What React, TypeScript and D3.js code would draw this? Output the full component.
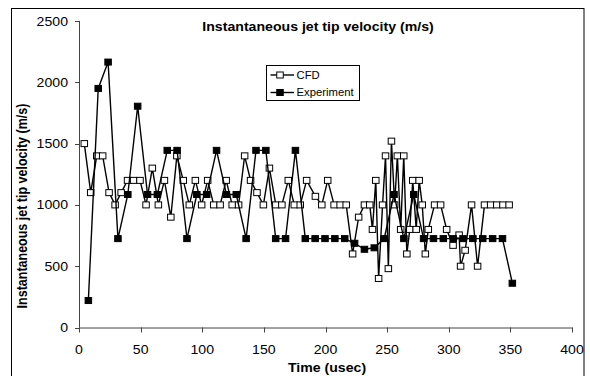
import React from 'react';
import * as d3 from 'd3';

const cfdTime = [4.3, 9.5, 14.4, 19.2, 24.4, 29.3, 34.2, 39.4, 44.3, 49.5, 54.4, 59.5, 64.4, 69.3, 74.5, 79.4, 84.6, 89.5, 94.4, 99.5, 104.4, 109.3, 114.5, 119.4, 124.3, 129.5, 134.4, 139.2, 144.4, 149.6, 154.5, 159.7, 164.6, 169.8, 174.7, 179.5, 184.7, 191.8, 197.0, 201.8, 207.0, 211.9, 216.8, 222.0, 226.9, 231.6, 235.9, 238.1, 240.8, 243.1, 246.3, 248.7, 251.0, 253.5, 256.1, 258.3, 261.0, 263.5, 266.0, 268.4, 270.8, 273.6, 276.0, 278.5, 281.0, 283.4, 288.5, 293.4, 298.3, 303.5, 308.4, 309.6, 313.3, 318.5, 323.4, 329.0, 334.0, 339.0, 344.0, 349.0];
const cfdVelocity = [1500, 1100, 1400, 1400, 1100, 1000, 1100, 1200, 1200, 1200, 1000, 1300, 1000, 1200, 900, 1400, 1200, 1000, 1200, 1000, 1200, 1000, 1000, 1200, 1000, 1000, 1400, 1200, 1100, 1000, 1300, 1000, 1000, 1200, 1000, 1000, 1200, 1070, 1000, 1200, 1000, 1000, 1000, 600, 900, 1000, 1000, 800, 1200, 400, 1000, 1400, 480, 1520, 1000, 1400, 800, 1400, 600, 800, 1200, 800, 1200, 1000, 600, 800, 1000, 1000, 800, 670, 755, 500, 630, 1000, 500, 1000, 1000, 1000, 1000, 1000];

const expTime = [7.6, 15.6, 23.6, 31.6, 39.6, 47.6, 55.6, 63.6, 71.6, 79.6, 87.6, 95.6, 103.6, 111.6, 119.6, 127.6, 135.6, 143.6, 151.6, 159.6, 167.6, 175.6, 183.6, 191.6, 199.6, 207.6, 215.6, 223.6, 231.6, 239.6, 247.6, 255.6, 263.6, 271.6, 279.6, 287.6, 295.6, 303.6, 311.6, 319.6, 327.6, 335.6, 343.6, 351.6];
const expVelocity = [220, 1950, 2165, 725, 1085, 1805, 1085, 1085, 1445, 1445, 725, 1085, 1085, 1445, 1085, 1085, 725, 1445, 1445, 725, 725, 1445, 725, 725, 725, 725, 725, 687, 638, 650, 725, 1085, 725, 1085, 725, 725, 725, 725, 725, 725, 725, 725, 725, 361];

const xTicks = [0, 50, 100, 150, 200, 250, 300, 350, 400];
const yTicks = [0, 500, 1000, 1500, 2000, 2500];
const chartTitle = 'Instantaneous jet tip velocity (m/s)';
const xTitle = 'Time (usec)';
const yTitle = 'Instantaneous jet tip velocity (m/s)';
const seriesNames = ['CFD', 'Experiment'];

const FONT = "'Liberation Sans', Arial, sans-serif";
const SX = 1.13;

export default function App() {
  const x = d3.scaleLinear().domain([0, 400]).range([79, 572]);
  const y = d3.scaleLinear().domain([0, 2500]).range([327.5, 21]);
  const line = d3.line<[number, number]>().x(d => x(d[0])).y(d => y(d[1]));
  const cfd: [number, number][] = cfdTime.map((t, i) => [t, cfdVelocity[i]]);
  const exp: [number, number][] = expTime.map((t, i) => [t, expVelocity[i]]);
  const mw = 6.5, mh = 6;
  const axisColor = '#444';

  const marker = (cx: number, cy: number, filled: boolean, key: any) => (
    <rect key={key} x={cx - mw / 2} y={cy - mh / 2} width={mw} height={mh}
      fill={filled ? '#000' : '#fff'} stroke="#000" strokeWidth={1} />
  );

  const lx0 = 270.5, lx1 = 294, lmx = 280;
  const rows = [75, 92.5];

  return (
    <svg width={590} height={376} style={{ position: 'absolute', left: 0, top: 0, background: '#fff' }}
      fontFamily={FONT}>
      <rect x={0} y={0} width={590} height={376} fill="#fff" />
      <rect x={11.5} y={8.5} width={572.5} height={400} fill="none" stroke="#000" strokeWidth={1} />

      {/* axes */}
      <line x1={79.5} x2={79.5} y1={y(2500)} y2={y(0)} stroke={axisColor} strokeWidth={1} />
      <line x1={79} x2={572.5} y1={y(0) + 0.5} y2={y(0) + 0.5} stroke={axisColor} strokeWidth={1} />
      {yTicks.map(t => (
        <g key={'y' + t}>
          <line x1={75} x2={79.5} y1={Math.round(y(t)) + 0.5} y2={Math.round(y(t)) + 0.5} stroke={axisColor} />
          <text transform={`translate(68,${y(t) + 4.5}) scale(${SX},1)`} textAnchor="end" fontSize={12.5} fill="#000">{t}</text>
        </g>
      ))}
      {xTicks.map(t => (
        <g key={'x' + t}>
          <line x1={Math.round(x(t)) + 0.5} x2={Math.round(x(t)) + 0.5} y1={y(0)} y2={y(0) + 5} stroke={axisColor} />
          <text transform={`translate(${x(t)},${354}) scale(${SX},1)`} textAnchor="middle" fontSize={12.5} fill="#000">{t}</text>
        </g>
      ))}

      {/* series */}
      <path d={line(cfd) || ''} fill="none" stroke="#000" strokeWidth={1.4} />
      {cfd.map((d, i) => marker(x(d[0]), y(d[1]), false, 'c' + i))}
      <path d={line(exp) || ''} fill="none" stroke="#000" strokeWidth={1.4} />
      {exp.map((d, i) => marker(x(d[0]), y(d[1]), true, 'e' + i))}

      {/* titles */}
      <text transform={`translate(318,${31}) scale(${SX},1)`} textAnchor="middle" fontSize={12.5} fontWeight="bold">{chartTitle}</text>
      <text transform={`translate(327,${372}) scale(${SX},1)`} textAnchor="middle" fontSize={12.5} fontWeight="bold">{xTitle}</text>
      <text transform={`translate(27,${206}) scale(${SX},1) rotate(-90)`} textAnchor="middle" fontSize={12.5} fontWeight="bold">{yTitle}</text>

      {/* legend */}
      <rect x={266.5} y={65.5} width={93} height={35} fill="#fff" stroke="#000" strokeWidth={1} />
      {seriesNames.map((name, i) => (
        <g key={name}>
          <line x1={lx0} x2={lx1} y1={rows[i]} y2={rows[i]} stroke="#000" strokeWidth={1.4} />
          {marker(lmx, rows[i], i === 1, 'l' + i)}
          <text transform={`translate(${lx1 + 2.5},${rows[i] + 3.6}) scale(${SX},1)`} fontSize={10} fill="#000">{name}</text>
        </g>
      ))}
    </svg>
  );
}
